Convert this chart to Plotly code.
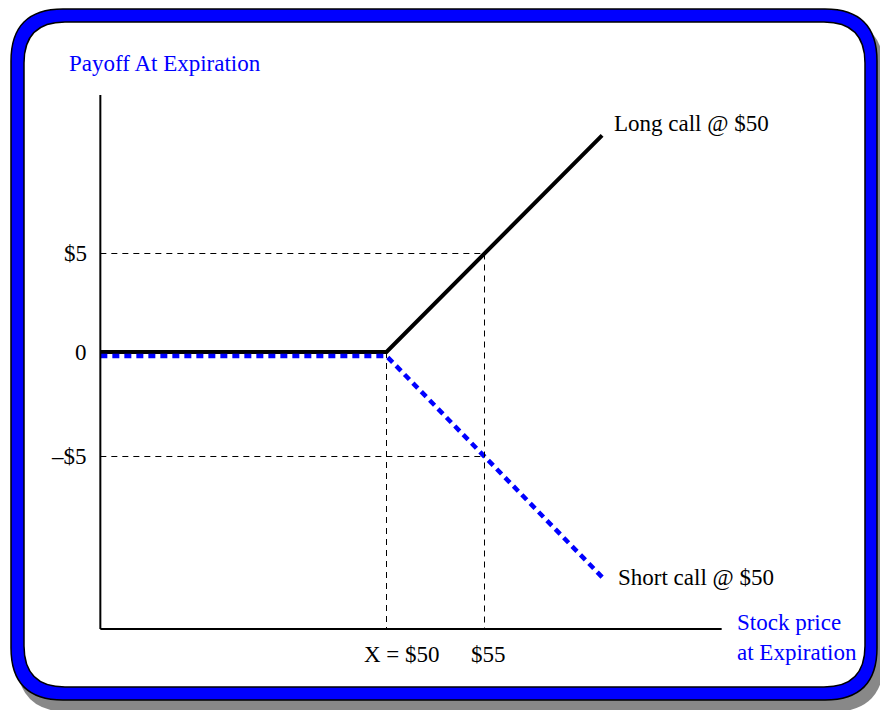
import plotly.graph_objects as go

# ---- data -------------------------------------------------------------
stock_price = [35.4, 50, 61]        # stock price at expiration ($)
long_call = [0, 0, 11]              # long call payoff ($)
short_call = [0, 0, -11]            # short call payoff ($)
strike = 50
ref_price = 55
ref_payoff = 5
y_tick_vals = [5, 0, -5]
y_tick_text = ["$5", "0", "\u2013$5"]
x_tick_vals = [50, 55]
x_tick_text = ["X = $50", "$55"]
x_tick_shift = [15, 4]                  # label offsets from their tick (px)
axis_x_min, axis_x_max = 35.4, 67.1     # extent of the drawn price axis
axis_y_min, axis_y_max = -14.06, 13.05  # extent of the drawn payoff axis

# ---- page geometry ----------------------------------------------------
W, H = 880, 710
FONT = "Liberation Serif"
BLUE = "#0000ff"

# pixel calibration: value -> pixel (x to the right, y downward)
X0_VAL, X0_PX, X_SCALE = 50, 386.5, 19.6
Y1_ZERO_PX, Y1_SCALE = 352, 19.7     # long-call scale
Y2_ZERO_PX, Y2_SCALE = 356, 20.1     # short-call scale (drawn just below)

x_range = [X0_VAL - X0_PX / X_SCALE, X0_VAL + (W - X0_PX) / X_SCALE]
y1_range = [-(H - Y1_ZERO_PX) / Y1_SCALE, Y1_ZERO_PX / Y1_SCALE]
y2_range = [-(H - Y2_ZERO_PX) / Y2_SCALE, Y2_ZERO_PX / Y2_SCALE]


def px(xp):
    return xp / W


def py(yp):
    return 1 - yp / H


def rounded_rect(x0, y0, x1, y1, r):
    """Rounded rectangle path in paper coordinates from pixel bounds."""
    pts = [
        ("M", [(x0 + r, y0)]),
        ("L", [(x1 - r, y0)]),
        ("Q", [(x1, y0), (x1, y0 + r)]),
        ("L", [(x1, y1 - r)]),
        ("Q", [(x1, y1), (x1 - r, y1)]),
        ("L", [(x0 + r, y1)]),
        ("Q", [(x0, y1), (x0, y1 - r)]),
        ("L", [(x0, y0 + r)]),
        ("Q", [(x0, y0), (x0 + r, y0)]),
    ]
    s = ""
    for cmd, coords in pts:
        s += cmd + " ".join(f"{px(a):.5f},{py(b):.5f}" for a, b in coords) + " "
    return s + "Z"


fig = go.Figure()

# payoff lines
fig.add_trace(go.Scatter(
    x=stock_price, y=short_call, mode="lines", yaxis="y2",
    line=dict(color=BLUE, width=4.5, dash="7px,5px"),
    hoverinfo="skip", showlegend=False))
fig.add_trace(go.Scatter(
    x=stock_price, y=long_call, mode="lines",
    line=dict(color="black", width=4),
    hoverinfo="skip", showlegend=False))

shapes = []
# frame: shadow, blue band, white panel
shapes.append(dict(type="path", xref="paper", yref="paper", layer="below",
                   path=rounded_rect(17, 19, 884, 712, 52),
                   fillcolor="#888888", line=dict(width=0)))
shapes.append(dict(type="path", xref="paper", yref="paper", layer="below",
                   path=rounded_rect(11, 9, 877, 700, 52),
                   fillcolor=BLUE, line=dict(color="black", width=1.5)))
shapes.append(dict(type="path", xref="paper", yref="paper", layer="below",
                   path=rounded_rect(24, 22, 865, 687, 41),
                   fillcolor="white", line=dict(color="black", width=1.5)))

dash_line = dict(color="black", width=1, dash="6px,5px")
# guide lines to the $55 / +-$5 points and the strike
shapes.append(dict(type="line", xref="x", yref="y", x0=axis_x_min, x1=ref_price,
                   y0=ref_payoff, y1=ref_payoff, line=dash_line))
shapes.append(dict(type="line", xref="x", yref="y2", x0=axis_x_min, x1=ref_price,
                   y0=-ref_payoff, y1=-ref_payoff, line=dash_line))
shapes.append(dict(type="line", xref="x", yref="y", x0=ref_price, x1=ref_price,
                   y0=ref_payoff, y1=axis_y_min, line=dash_line))
shapes.append(dict(type="line", xref="x", yref="y", x0=strike, x1=strike,
                   y0=0, y1=axis_y_min, line=dash_line))
# axes
shapes.append(dict(type="line", xref="x", yref="y", x0=axis_x_min, x1=axis_x_min,
                   y0=axis_y_min, y1=axis_y_max, line=dict(color="black", width=2)))
shapes.append(dict(type="line", xref="x", yref="y", x0=axis_x_min, x1=axis_x_max,
                   y0=axis_y_min, y1=axis_y_min, line=dict(color="black", width=2)))

annotations = []
tick_font = dict(family=FONT, size=23, color="black")
for v, t in zip(y_tick_vals, y_tick_text):
    annotations.append(dict(
        x=px(89), y=v, xref="paper", yref="y" if v >= 0 else "y2",
        text=t, showarrow=False, xanchor="right", yanchor="middle", font=tick_font))
for v, t, s in zip(x_tick_vals, x_tick_text, x_tick_shift):
    annotations.append(dict(
        x=v, y=py(654), xref="x", yref="paper", text=t, showarrow=False,
        xshift=s, xanchor="center", yanchor="middle", font=tick_font))

annotations.append(dict(
    x=stock_price[-1], y=long_call[-1], xref="x", yref="y", xshift=10, yshift=12,
    text="Long call @ $50", showarrow=False, xanchor="left", yanchor="middle",
    font=tick_font))
annotations.append(dict(
    x=stock_price[-1], y=short_call[-1], xref="x", yref="y2", xshift=14,
    text="Short call @ $50", showarrow=False, xanchor="left", yanchor="middle",
    font=tick_font))

blue_font = dict(family=FONT, size=23, color=BLUE)
annotations.append(dict(
    x=px(67), y=py(64), xref="paper", yref="paper", text="Payoff At Expiration",
    showarrow=False, xanchor="left", yanchor="middle", font=blue_font))
annotations.append(dict(
    x=px(735), y=py(637), xref="paper", yref="paper",
    text="Stock price<br>at Expiration", align="left",
    showarrow=False, xanchor="left", yanchor="middle", font=blue_font))

hidden = dict(visible=False, showgrid=False, zeroline=False, fixedrange=True)
fig.update_layout(
    width=W, height=H, autosize=False,
    margin=dict(l=0, r=0, t=0, b=0, pad=0),
    paper_bgcolor="white", plot_bgcolor="rgba(0,0,0,0)",
    xaxis=dict(range=x_range, **hidden),
    yaxis=dict(range=y1_range, **hidden),
    yaxis2=dict(range=y2_range, overlaying="y", **hidden),
    shapes=shapes, annotations=annotations, showlegend=False,
)

fig.write_html("out.html")
